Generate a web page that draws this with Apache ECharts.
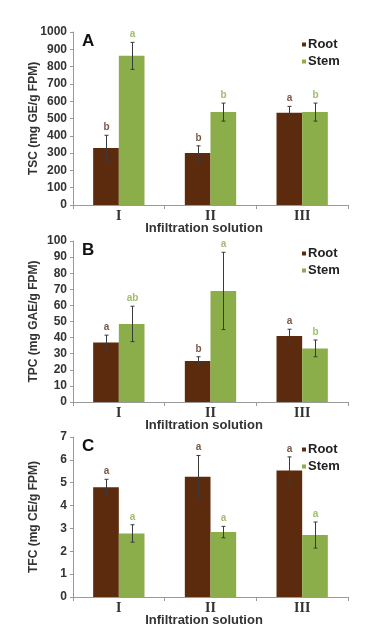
<!DOCTYPE html>
<html lang="en">
<head>
    <meta charset="UTF-8">
    <title>TSC TPC TFC</title>
    <script src="https://cdn.jsdelivr.net/npm/echarts@6/dist/echarts.min.js"></script>
    <style>
        html, body { margin: 0; padding: 0; background: #fff; }
    </style>
</head>
<body>
<div id="main" style="width:388px;height:631px;"></div>
<script>
    // data
    const categories = ['I', 'II', 'III'];

    const tscRoot = [330, 300, 533];
    const tscRootErr = [73, 42, 37];
    const tscStem = [862, 537, 537];
    const tscStemErr = [78, 52, 52];
    const tscRootLetters = ['b', 'b', 'a'];
    const tscStemLetters = ['a', 'b', 'b'];

    const tpcRoot = [37, 25.5, 41];
    const tpcRootErr = [4.5, 2.6, 4.2];
    const tpcStem = [48.5, 69, 33.3];
    const tpcStemErr = [11, 24, 5.2];
    const tpcRootLetters = ['a', 'b', 'a'];
    const tpcStemLetters = ['ab', 'a', 'b'];

    const tfcRoot = [4.8, 5.26, 5.53];
    const tfcRootErr = [0.35, 0.93, 0.6];
    const tfcStem = [2.78, 2.84, 2.71];
    const tfcStemErr = [0.38, 0.25, 0.57];
    const tfcRootLetters = ['a', 'a', 'a'];
    const tfcStemLetters = ['a', 'a', 'a'];

    const ROOT = '#5c2a0c';
    const STEM = '#8bae4a';
    const ROOT_TXT = '#7a5848';
    const STEM_TXT = '#9fbe6c';

    const panels = [
        { tag: 'A', name: 'TSC (mg GE/g FPM)', top: 32, height: 173, max: 1000, interval: 100,
          root: tscRoot, rootErr: tscRootErr, stem: tscStem, stemErr: tscStemErr,
          rootLet: tscRootLetters, stemLet: tscStemLetters },
        { tag: 'B', name: 'TPC (mg GAE/g FPM)', top: 241, height: 161, max: 100, interval: 10,
          root: tpcRoot, rootErr: tpcRootErr, stem: tpcStem, stemErr: tpcStemErr,
          rootLet: tpcRootLetters, stemLet: tpcStemLetters },
        { tag: 'C', name: 'TFC (mg CE/g FPM)', top: 437, height: 160, max: 7, interval: 1,
          root: tfcRoot, rootErr: tfcRootErr, stem: tfcStem, stemErr: tfcStemErr,
          rootLet: tfcRootLetters, stemLet: tfcStemLetters }
    ];

    const BAR_FRAC = 0.28;

    function errRender(side, errs, letters, color) {
        return function (params, api) {
            const i = api.value(0);
            const v = api.value(1);
            const e = errs[i];
            const center = api.coord([i, v]);
            const bw = api.size([1, 0])[0] * BAR_FRAC;
            const x = Math.round(center[0] + side * bw / 2) + 0.5;
            const top = api.coord([i, v + e])[1];
            const bot = api.coord([i, v - e])[1];
            const cap = 2;
            const ls = { stroke: '#3a3a3a', lineWidth: 1 };
            return {
                type: 'group',
                children: [
                    { type: 'line', shape: { x1: x, y1: top, x2: x, y2: bot }, style: ls },
                    { type: 'line', shape: { x1: x - cap, y1: top, x2: x + cap, y2: top }, style: ls },
                    { type: 'line', shape: { x1: x - cap, y1: bot, x2: x + cap, y2: bot }, style: ls },
                    { type: 'text', x: x, y: top - 8, style: {
                        text: letters[i], fill: color, align: 'center', verticalAlign: 'middle',
                        font: 'bold 10px Arial, "Liberation Sans", sans-serif' } }
                ]
            };
        };
    }

    const grid = [], xAxis = [], yAxis = [], series = [], legend = [], graphic = [];

    panels.forEach((p, k) => {
        grid.push({ left: 73, width: 275, top: p.top, height: p.height });
        xAxis.push({
            type: 'category', gridIndex: k, data: categories,
            axisLine: { lineStyle: { color: '#9a9a9a' } },
            axisTick: { show: true, length: 4, lineStyle: { color: '#9a9a9a' } },
            axisLabel: { margin: 4, color: '#333', fontFamily: '"Liberation Serif", "DejaVu Serif", serif',
                fontWeight: 'bold', fontSize: 14 },
            name: 'Infiltration solution', nameLocation: 'middle', nameGap: 17,
            nameMoveOverlap: false,
            nameTextStyle: { color: '#333', fontFamily: 'Arial, "Liberation Sans", sans-serif',
                fontWeight: 'bold', fontSize: 13, padding: [0, 13, 0, 0] }
        });
        yAxis.push({
            type: 'value', gridIndex: k, min: 0, max: p.max, interval: p.interval,
            splitLine: { show: false },
            axisLine: { show: true, lineStyle: { color: '#9a9a9a' } },
            axisTick: { show: true, length: 3, lineStyle: { color: '#9a9a9a' } },
            axisLabel: { margin: 6, color: '#333', fontFamily: 'Arial, "Liberation Sans", sans-serif',
                fontWeight: 'bold', fontSize: 12, formatter: v => String(v) },
            name: p.name, nameLocation: 'middle', nameGap: 33, nameRotate: 90,
            nameMoveOverlap: false,
            nameTextStyle: { color: '#333', fontFamily: 'Arial, "Liberation Sans", sans-serif',
                fontWeight: 'bold', fontSize: 12 }
        });
        series.push({
            name: 'Root', type: 'bar', xAxisIndex: k, yAxisIndex: k, data: p.root,
            barWidth: (BAR_FRAC * 100) + '%', barGap: '0%', itemStyle: { color: ROOT }
        });
        series.push({
            name: 'Stem', type: 'bar', xAxisIndex: k, yAxisIndex: k, data: p.stem,
            barWidth: (BAR_FRAC * 100) + '%', barGap: '0%', itemStyle: { color: STEM }
        });
        series.push({
            type: 'custom', xAxisIndex: k, yAxisIndex: k, z: 5,
            data: p.root.map((v, i) => [i, v]),
            renderItem: errRender(-1, p.rootErr, p.rootLet, ROOT_TXT)
        });
        series.push({
            type: 'custom', xAxisIndex: k, yAxisIndex: k, z: 5,
            data: p.stem.map((v, i) => [i, v]),
            renderItem: errRender(1, p.stemErr, p.stemLet, STEM_TXT)
        });
        legend.push({
            data: ['Root', 'Stem'], orient: 'vertical', left: 297, top: p.top + 1,
            icon: 'rect', itemWidth: 4, itemHeight: 4, itemGap: 4,
            textStyle: { color: '#222', fontFamily: 'Arial, "Liberation Sans", sans-serif',
                fontWeight: 'bold', fontSize: 13, padding: [0, 0, 0, -3] }
        });
        graphic.push({
            type: 'text', left: 82, top: p.top + 1,
            style: { text: p.tag, fill: '#111', font: 'bold 17px Arial, "Liberation Sans", sans-serif' }
        });
    });

    const myChart = echarts.init(document.getElementById('main'));
    myChart.setOption({
        animation: false,
        grid: grid,
        xAxis: xAxis,
        yAxis: yAxis,
        legend: legend,
        graphic: graphic,
        series: series
    });
</script>
</body>
</html>
